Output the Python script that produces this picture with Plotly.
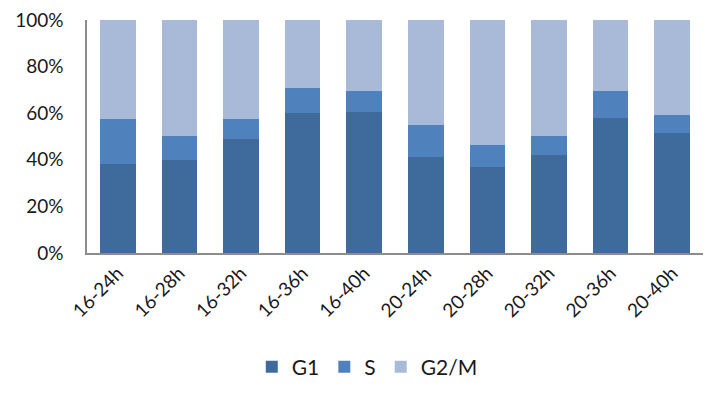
import plotly.graph_objects as go

categories = ["16-24h", "16-28h", "16-32h", "16-36h", "16-40h",
              "20-24h", "20-28h", "20-32h", "20-36h", "20-40h"]
g1 = [38.2, 40.0, 48.9, 60.0, 60.6, 41.3, 36.9, 42.2, 58.0, 51.6]
s = [19.3, 10.2, 8.6, 10.8, 9.1, 13.7, 9.6, 8.0, 11.7, 7.8]
g2m = [round(100 - a - b, 1) for a, b in zip(g1, s)]

series_names = ["G1", "S", "G2/M"]
colors = ["#3F6A9C", "#4F81BD", "#A9BAD8"]
ytick_vals = [0, 20, 40, 60, 80, 100]
ytick_text = ["0%", "20%", "40%", "60%", "80%", "100%"]

font = "Lato, Open Sans, sans-serif"

fig = go.Figure()
for name, vals, col in zip(series_names, [g1, s, g2m], colors):
    fig.add_trace(go.Bar(x=categories, y=vals, name=name, marker_color=col,
                         marker_line_width=0))

fig.update_layout(
    barmode="stack",
    bargap=0.42,
    width=707, height=406,
    margin=dict(l=87, r=4, t=20, b=153),
    plot_bgcolor="white", paper_bgcolor="white",
    font=dict(family=font, color="#1a1a1a", size=19),
    showlegend=True,
    legend=dict(orientation="h", x=0.455, xanchor="center", y=-0.49, yanchor="middle",
                font=dict(size=21), itemwidth=30, traceorder="normal"),
    xaxis=dict(showline=True, linecolor="#8c8c8c", linewidth=1.5, tickangle=-45,
               ticks="", tickfont=dict(size=19)),
    yaxis=dict(range=[0, 100], tickvals=ytick_vals, ticktext=ytick_text,
               showline=True, linecolor="#8c8c8c", linewidth=1.5, showgrid=False,
               ticks="", tickfont=dict(size=19), ticklabelstandoff=18),
)

fig.write_html("out.html")
